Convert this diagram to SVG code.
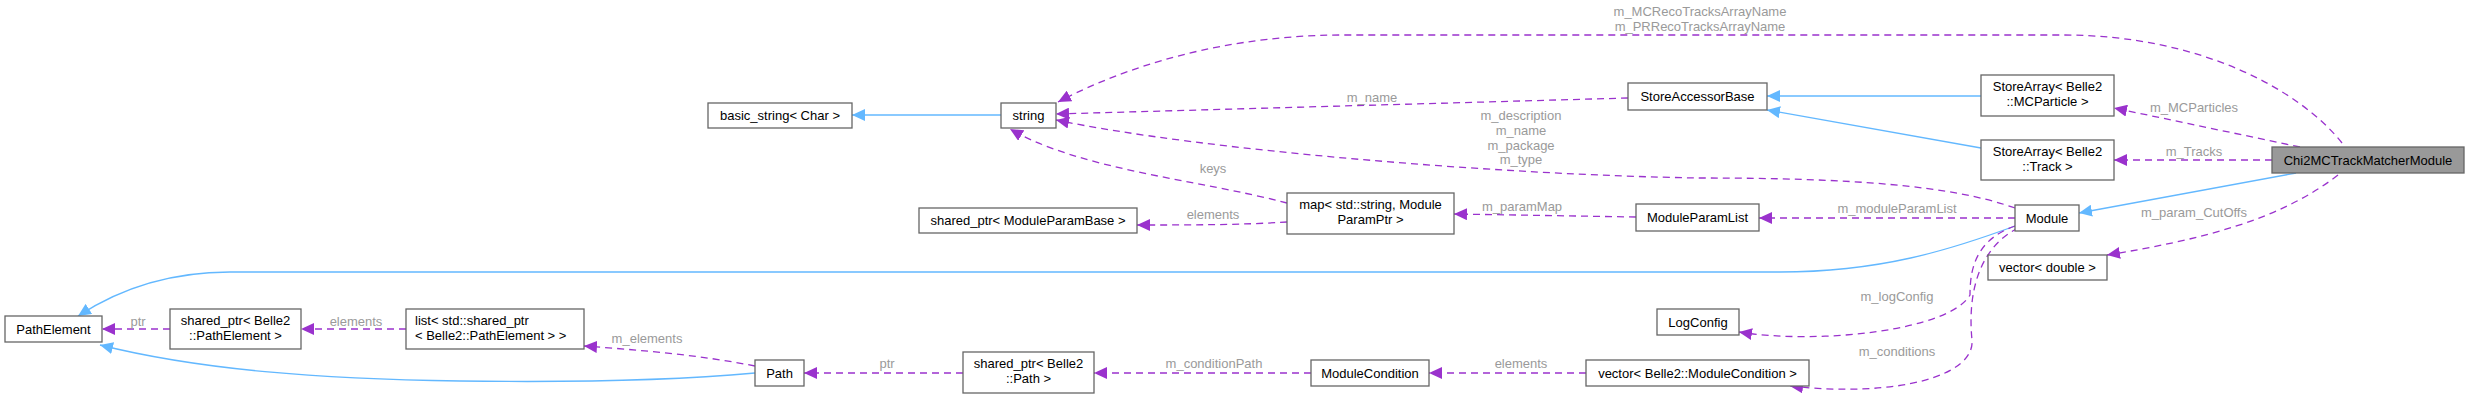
<svg xmlns="http://www.w3.org/2000/svg" width="2468" height="400" viewBox="0 0 2468 400">
<style>
.n rect{fill:#fff;stroke:#666;stroke-width:1.3}
.n text{font-family:"Liberation Sans",Arial,sans-serif;font-size:13px;fill:#000;text-anchor:middle}
.e path{fill:none;stroke-width:1.3}
.b{stroke:#63b8ff}
.p{stroke:#9a32cd;stroke-dasharray:7,5}
.l{font-family:"Liberation Sans",Arial,sans-serif;font-size:13px;fill:#9a9a9a;text-anchor:middle}
</style>
<defs>
<marker id="ab" markerUnits="userSpaceOnUse" markerWidth="14" markerHeight="12" refX="13" refY="6" orient="auto"><path d="M0,0L13,6L0,12z" fill="#63b8ff"/></marker>
<marker id="ap" markerUnits="userSpaceOnUse" markerWidth="14" markerHeight="12" refX="13" refY="6" orient="auto"><path d="M0,0L13,6L0,12z" fill="#9a32cd"/></marker>
</defs>
<g id="connectors" class="e">
<path class="b" marker-end="url(#ab)" d="M1001,115L852,115"/>
<path class="b" marker-end="url(#ab)" d="M1981,96L1767,96"/>
<path class="b" marker-end="url(#ab)" d="M1981,148L1767,110"/>
<path class="b" marker-end="url(#ab)" d="M2296,173L2079,213"/>
<path class="b" marker-end="url(#ab)" d="M2015,226C1950,250 1880,272 1780,272L230,272C160,272 110,295 78,316"/>
<path class="b" marker-end="url(#ab)" d="M755,373C700,378 600,383 460,381C320,379 200,370 100,345"/>
<path class="p" marker-end="url(#ap)" d="M2342,143C2300,90 2200,35 2063,35L1344,35C1200,35 1100,80 1058,102"/>
<path class="p" marker-end="url(#ap)" d="M1628,98L1056,114"/>
<path class="p" marker-end="url(#ap)" d="M2015,208C1950,185 1850,178 1700,178C1500,175 1200,150 1056,120"/>
<path class="p" marker-end="url(#ap)" d="M1287,203C1200,180 1080,170 1010,129"/>
<path class="p" marker-end="url(#ap)" d="M1287,222C1240,225 1190,225 1137,225"/>
<path class="p" marker-end="url(#ap)" d="M1636,217L1454,214"/>
<path class="p" marker-end="url(#ap)" d="M2015,218L1759,218"/>
<path class="p" marker-end="url(#ap)" d="M2015,226C1975,240 1970,270 1970,295C1950,330 1820,345 1739,332"/>
<path class="p" marker-end="url(#ap)" d="M2018,228C1975,250 1968,300 1972,340C1975,375 1900,398 1790,386"/>
<path class="p" marker-end="url(#ap)" d="M2338,175C2280,220 2200,240 2107,255"/>
<path class="p" marker-end="url(#ap)" d="M2300,147L2114,108"/>
<path class="p" marker-end="url(#ap)" d="M2272,160L2114,160"/>
<path class="p" marker-end="url(#ap)" d="M1586,373L1429,373"/>
<path class="p" marker-end="url(#ap)" d="M1311,373L1094,373"/>
<path class="p" marker-end="url(#ap)" d="M963,373L804,373"/>
<path class="p" marker-end="url(#ap)" d="M755,366C700,355 640,350 584,346"/>
<path class="p" marker-end="url(#ap)" d="M406,329L301,329"/>
<path class="p" marker-end="url(#ap)" d="M170,329L102,329"/>
</g>
<g id="labels">
<text class="l" x="1700" y="16">m_MCRecoTracksArrayName</text>
<text class="l" x="1700" y="31">m_PRRecoTracksArrayName</text>
<text class="l" x="1372" y="102">m_name</text>
<text class="l" x="1521" y="120">m_description</text>
<text class="l" x="1521" y="135">m_name</text>
<text class="l" x="1521" y="150">m_package</text>
<text class="l" x="1521" y="164">m_type</text>
<text class="l" x="1213" y="173">keys</text>
<text class="l" x="1213" y="219">elements</text>
<text class="l" x="1522" y="211">m_paramMap</text>
<text class="l" x="1897" y="213">m_moduleParamList</text>
<text class="l" x="1897" y="301">m_logConfig</text>
<text class="l" x="1897" y="356">m_conditions</text>
<text class="l" x="2194" y="217">m_param_CutOffs</text>
<text class="l" x="2194" y="112">m_MCParticles</text>
<text class="l" x="2194" y="156">m_Tracks</text>
<text class="l" x="1521" y="368">elements</text>
<text class="l" x="1214" y="368">m_conditionPath</text>
<text class="l" x="887" y="368">ptr</text>
<text class="l" x="647" y="343">m_elements</text>
<text class="l" x="356" y="326">elements</text>
<text class="l" x="138" y="326">ptr</text>
</g>
<g id="Chi2MCTrackMatcherModule" class="n"><rect x="2272" y="147" width="192" height="26" style="fill:#999"/><text x="2368" y="164.5">Chi2MCTrackMatcherModule</text></g>
<g id="StoreArrayMCParticle" class="n"><rect x="1981" y="75" width="133" height="41"/><text x="2047.5" y="91">StoreArray&lt; Belle2</text><text x="2047.5" y="106">::MCParticle &gt;</text></g>
<g id="StoreArrayTrack" class="n"><rect x="1981" y="140" width="133" height="40"/><text x="2047.5" y="156">StoreArray&lt; Belle2</text><text x="2047.5" y="171">::Track &gt;</text></g>
<g id="StoreAccessorBase" class="n"><rect x="1628" y="83" width="139" height="27"/><text x="1697.5" y="101">StoreAccessorBase</text></g>
<g id="string" class="n"><rect x="1001" y="103" width="55" height="25"/><text x="1028.5" y="120">string</text></g>
<g id="basic_string" class="n"><rect x="708" y="103" width="144" height="25"/><text x="780" y="120">basic_string&lt; Char &gt;</text></g>
<g id="Module" class="n"><rect x="2015" y="205" width="64" height="26"/><text x="2047" y="222.5">Module</text></g>
<g id="ModuleParamList" class="n"><rect x="1636" y="204" width="123" height="27"/><text x="1697.5" y="222">ModuleParamList</text></g>
<g id="map" class="n"><rect x="1287" y="193" width="167" height="41"/><text x="1370.5" y="209">map&lt; std::string, Module</text><text x="1370.5" y="224">ParamPtr &gt;</text></g>
<g id="shared_ptr_ModuleParamBase" class="n"><rect x="919" y="208" width="218" height="25"/><text x="1028" y="225">shared_ptr&lt; ModuleParamBase &gt;</text></g>
<g id="vector_double" class="n"><rect x="1988" y="255" width="119" height="25"/><text x="2047.5" y="272">vector&lt; double &gt;</text></g>
<g id="LogConfig" class="n"><rect x="1657" y="309" width="82" height="26"/><text x="1698" y="326.5">LogConfig</text></g>
<g id="vector_ModuleCondition" class="n"><rect x="1586" y="360" width="223" height="26"/><text x="1697.5" y="377.5">vector&lt; Belle2::ModuleCondition &gt;</text></g>
<g id="ModuleCondition" class="n"><rect x="1311" y="360" width="118" height="26"/><text x="1370" y="377.5">ModuleCondition</text></g>
<g id="shared_ptr_Path" class="n"><rect x="963" y="352" width="131" height="41"/><text x="1028.5" y="368">shared_ptr&lt; Belle2</text><text x="1028.5" y="383">::Path &gt;</text></g>
<g id="Path" class="n"><rect x="755" y="360" width="49" height="26"/><text x="779.5" y="377.5">Path</text></g>
<g id="list" class="n"><rect x="406" y="309" width="178" height="40"/><text x="415" y="325" style="text-anchor:start">list&lt; std::shared_ptr</text><text x="415" y="340" style="text-anchor:start">&lt; Belle2::PathElement &gt; &gt;</text></g>
<g id="shared_ptr_PathElement" class="n"><rect x="170" y="309" width="131" height="40"/><text x="235.5" y="325">shared_ptr&lt; Belle2</text><text x="235.5" y="340">::PathElement &gt;</text></g>
<g id="PathElement" class="n"><rect x="5" y="316" width="97" height="26"/><text x="53.5" y="333.5">PathElement</text></g>
</svg>
